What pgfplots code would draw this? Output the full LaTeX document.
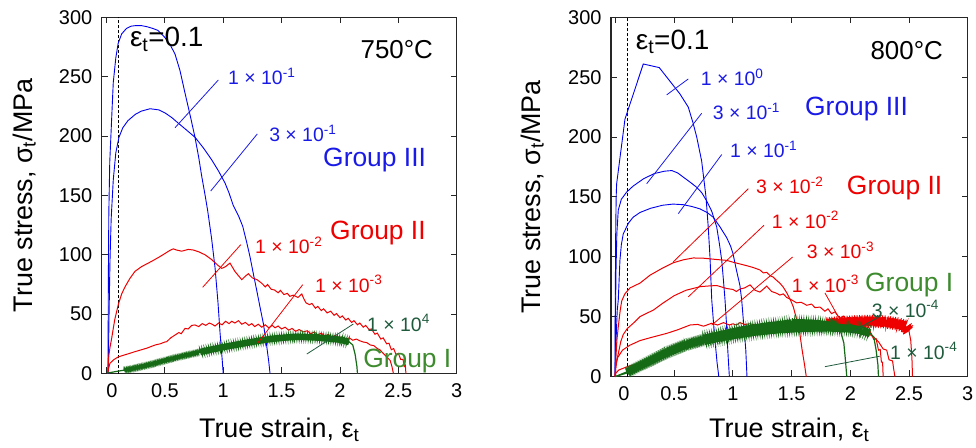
\documentclass[border=0pt]{standalone}
\usepackage{fontspec}
\setmainfont{Liberation Sans}
\usepackage{pgfplots}
\pgfplotsset{compat=1.18}
\usetikzlibrary{decorations.pathmorphing}

\definecolor{lblue}{HTML}{0000F0}
\definecolor{tblue}{HTML}{1A1AE6}
\definecolor{lred}{HTML}{EE0000}
\definecolor{lgreen}{HTML}{156A15}
\definecolor{tgreen}{HTML}{1F5A3C}
\definecolor{ggreen}{HTML}{3D8B2E}

\tikzset{
  rate/.style={anchor=base west, inner sep=0pt, font=\fontsize{19.5}{20}\selectfont},
  grp/.style={anchor=base west, inner sep=0pt, font=\fontsize{26.5}{28}\selectfont},
  big/.style={inner sep=0pt, font=\fontsize{28}{30}\selectfont},
  % scatter of the measured signal drawn round the mean curve
  fuzz/.style 2 args={postaction={draw, decorate,
      decoration={zigzag, segment length=#1, amplitude=#2}}},
}

\pgfplotsset{panel/.style={
  scale only axis, anchor=south west,
  ymin=0, ymax=300, xmax=3,
  xtick={0,0.5,1,1.5,2,2.5,3},
  ytick={0,50,100,150,200,250,300},
  yticklabels={0,50,100,150,200,250,300},
  tick align=inside, major tick length=6bp,
  axis line style={line width=1.1bp, black!85},
  tick style={line width=0.9bp, black!85},
  ticklabel style={font=\fontsize{20}{22}\selectfont},
  yticklabel style={xshift=-6bp},
  xticklabel style={yshift=-7bp},
  label style={font=\fontsize{27}{29}\selectfont},
  xlabel={True strain, ε\textsubscript{t}},
  ylabel={True stress, σ\textsubscript{t}/MPa},
  clip=false,
}}

\begin{document}
\begin{tikzpicture}
\useasboundingbox (0bp,0bp) rectangle (976bp,448bp);

% ---------------- 750 C ----------------
\begin{axis}[panel,
  at={(101.7bp,74.5bp)}, width=355bp, height=356.2bp,
  xmin=-0.041,
  xticklabels={\kern11bp 0,0.5,1,1.5,2,2.5,3},
  xlabel style={at={(axis description cs:0.5,-0.1797)}, anchor=base},
  ylabel style={at={(axis description cs:-0.1963,0.5)}, anchor=base},
]
\draw[black, dashed, line width=0.8bp, dash pattern=on 3bp off 2bp] (0.1,0) -- (0.1,300);

% 3x10^-1
\addplot[lblue, line width=0.9bp] coordinates {
(0.013,0)(0.016,80)(0.02,135)(0.028,178)(0.04,205)(0.058,245)(0.08,266)(0.1,278)
(0.13,286)(0.17,290.5)(0.21,292.5)(0.25,293)(0.3,293)(0.35,292)(0.4,290.5)(0.44,289)
(0.5,283)(0.55,276)(0.587,269)(0.63,255)(0.673,236)(0.72,216)(0.758,199)(0.79,182)
(0.816,166)(0.845,150)(0.867,137)(0.9,114)(0.93,89)(0.955,60)(0.973,34)(0.99,13)(1.0,0)};
% 1x10^-1
\addplot[lblue, line width=0.9bp] coordinates {
(0.015,0)(0.022,50)(0.03,95)(0.04,130)(0.058,163)(0.08,186)(0.107,199)(0.14,207)
(0.184,213)(0.25,218.5)(0.3,221)(0.373,223)(0.45,222)(0.501,219.5)(0.56,215.5)(0.613,211)
(0.68,205.5)(0.758,199)(0.83,190)(0.901,180)(0.96,170.5)(1.015,160.5)(1.05,152)(1.084,142)
(1.13,133)(1.167,124)(1.2,111)(1.23,98)(1.26,83)(1.287,70)(1.315,56)(1.344,42)(1.37,25)
(1.39,10)(1.401,0)};
% 1x10^-2
\addplot[lred, line width=1bp] coordinates {
(0.01,0)(0.02,15)(0.03,22)(0.045,30)(0.07,45)(0.101,58)(0.13,67)(0.159,73)(0.2,80)
(0.244,86)(0.3,90)(0.387,94.5)(0.45,98)(0.5,101)(0.54,103.5)(0.572,105)(0.6,104)(0.644,103)
(0.7,104.5)(0.744,104)(0.79,102.5)(0.844,100)(0.9,96)(0.95,91.5)(0.987,88.5)(1.02,90)
(1.058,93)(1.1,86)(1.159,79)(1.19,82)(1.215,84)(1.25,80.5)(1.29,79)(1.33,76)(1.36,73)
(1.38,75)(1.41,71)(1.44,70.3)(1.47,68)(1.49,70)(1.52,66.5)(1.55,67.5)(1.57,65)(1.6,66)
(1.64,64)(1.673,67)(1.69,63)(1.71,59.4)(1.74,58)(1.76,59)(1.79,55)(1.81,56.5)(1.84,53)
(1.86,54.5)(1.89,51)(1.92,52.5)(1.95,49)(1.97,50.5)(2.0,47)(2.02,48.5)(2.05,45)(2.07,46.5)
(2.1,43)(2.12,44.5)(2.15,41)(2.17,42.5)(2.2,39)(2.22,40.5)(2.25,37)(2.27,37.5)(2.3,33)
(2.32,34)(2.35,29)(2.37,30)(2.4,25)(2.42,25.5)(2.44,20)(2.46,21)(2.48,16)(2.5,17)
(2.52,12)(2.54,12)(2.55,6)(2.56,7)(2.565,0)};
% 1x10^-3
\addplot[lred, line width=1bp] coordinates {
(0.01,0)(0.02,5)(0.03,8.6)(0.06,11.5)(0.101,14)(0.15,15.5)(0.2,17)(0.244,18.4)(0.3,20)
(0.35,21.5)(0.416,24)(0.46,25)(0.5,26.5)(0.516,26.8)(0.55,30)(0.587,32.4)(0.62,34.5)
(0.64,33.5)(0.673,38)(0.7,37.5)(0.73,40.5)(0.758,40.9)(0.79,39.5)(0.82,42)(0.85,40.5)
(0.88,42.5)(0.901,41.7)(0.93,40)(0.96,42.5)(0.99,41)(1.02,44)(1.05,42)(1.073,44)(1.1,42.5)
(1.13,44.5)(1.16,41.5)(1.19,43)(1.22,40.5)(1.244,42)(1.27,39.5)(1.3,41.5)(1.33,39)(1.36,41)
(1.39,38.5)(1.42,40.5)(1.444,38.5)(1.47,40)(1.5,37.5)(1.53,39)(1.56,36.5)(1.59,38)(1.62,35.5)
(1.65,37)(1.686,35)(1.72,36)(1.75,33.5)(1.78,35)(1.81,32.5)(1.84,34)(1.87,31.5)(1.9,33)
(1.93,30.5)(1.96,32)(1.99,30)(2.02,31)(2.05,29)(2.08,30)(2.11,28)(2.14,29)(2.172,27.5)
(2.2,26.5)(2.23,26)(2.26,24)(2.29,23.5)(2.32,21)(2.344,19.8)(2.37,17)(2.4,14)(2.43,11)
(2.445,6)(2.458,0)};
% 1x10^-4 (mean curve, then its scatter)
\addplot[lgreen, line width=1.2bp] coordinates {
(0.015,0.5)(0.1,2)(0.2,3.6)(0.3,5.8)(0.4,8.2)(0.5,10.9)(0.6,13.5)(0.7,15.8)(0.8,18)
(0.9,20.2)(1.0,22.2)(1.1,24)(1.2,25.8)(1.3,27.5)(1.4,29)(1.5,30)(1.6,30.8)(1.7,30.8)
(1.8,30.3)(1.9,29.5)(2.0,28.5)(2.08,26.5)(2.11,24)(2.13,16)(2.145,6)(2.15,0)};
\addplot[lgreen, line width=0.9bp, fuzz={1.1bp}{1.5bp}, fuzz={2.3bp}{2bp}] coordinates {
(0.15,2.8)(0.2,3.6)(0.3,5.8)(0.4,8.2)(0.5,10.9)(0.6,13.5)(0.7,15.8)(0.8,18)};
\addplot[lgreen, line width=0.9bp, fuzz={1.1bp}{3.2bp}, fuzz={2.3bp}{4bp}] coordinates {
(0.8,18)(0.9,20.2)(1.0,22.2)(1.1,24)(1.2,25.8)(1.3,27.5)(1.4,29)(1.5,30)(1.6,30.8)
(1.7,30.8)(1.8,30.3)(1.9,29.5)(2.0,28.5)(2.08,26.5)};

\node[big, anchor=base west] at (0.2,275) {ε\textsubscript{t}=0.1};
\node[big, anchor=base east, font=\fontsize{26}{28}\selectfont] at (2.798,265) {750°C};

\draw[tblue, line width=0.8bp] (0.958,247.2) -- (0.587,207);
\draw[tblue, line width=0.8bp] (1.292,201.8) -- (0.893,153.7);
\draw[lred, line width=0.8bp] (1.15,108.5) -- (0.824,72.6);
\draw[lred, line width=0.8bp] (1.681,74.8) -- (1.296,25.7);
\draw[tgreen, line width=0.8bp] (2.115,41.7) -- (1.716,16.4);

\node[rate, tblue] at (1.041,243) {1 × 10\textsuperscript{-1}};
\node[rate, tblue] at (1.393,195) {3 × 10\textsuperscript{-1}};
\node[grp, tblue] at (1.855,174.2) {Group III};
\node[grp, lred] at (1.915,112.5) {Group II};
\node[rate, lred] at (1.272,100.7) {1 × 10\textsuperscript{-2}};
\node[rate, lred] at (1.786,68.4) {1 × 10\textsuperscript{-3}};
\node[rate, tgreen] at (2.232,35.5) {1 × 10\textsuperscript{4}};
\node[grp, ggreen] at (2.198,5.2) {Group I};
\end{axis}

% ---------------- 800 C ----------------
\begin{axis}[panel,
  at={(611bp,71.5bp)}, width=356.7bp, height=359.2bp,
  xmin=-0.038,
  xticklabels={\kern17bp 0,0.5,1,1.5,2,2.5,3},
  xlabel style={at={(axis description cs:0.5,-0.1693)}, anchor=base},
  ylabel style={at={(axis description cs:-0.199,0.5)}, anchor=base},
]
\draw[black, dashed, line width=0.8bp, dash pattern=on 3bp off 2bp] (0.1,0) -- (0.1,300);

% 1x10^0
\addplot[lblue, line width=0.9bp] coordinates {
(-0.004,0)(-0.002,60)(0.002,120)(0.006,150)(0.01,161)(0.081,215)(0.237,261)(0.373,258)
(0.549,236)(0.62,225)(0.66,212)(0.692,200)(0.734,180)(0.771,150)(0.79,125)(0.805,100)
(0.82,64)(0.835,45)(0.848,30)(0.865,12)(0.88,0)};
% 3x10^-1
\addplot[lblue, line width=0.9bp] coordinates {
(-0.003,0)(0.0,50)(0.005,90)(0.012,120)(0.024,139)(0.05,148)(0.095,154)(0.15,159)
(0.237,165)(0.33,169.5)(0.42,171.5)(0.48,172)(0.53,170)(0.578,166.5)(0.64,162)(0.692,158)
(0.735,153.5)(0.775,147)(0.82,138)(0.862,125)(0.885,111)(0.905,97)(0.92,80)(0.933,64)
(0.945,45)(0.952,30)(0.962,13)(0.97,0)};
% 1x10^-1
\addplot[lblue, line width=0.9bp] coordinates {
(-0.002,0)(0.005,30)(0.015,55)(0.024,64)(0.038,97)(0.05,110)(0.066,119)(0.11,128)
(0.15,133)(0.209,137)(0.3,140.5)(0.4,143)(0.49,144)(0.578,143.5)(0.65,142)(0.72,140)
(0.78,137)(0.833,133)(0.89,125)(0.947,116)(0.98,109)(1.0,103)(1.03,89)(1.06,76)
(1.075,64)(1.09,46)(1.1,35)(1.11,22)(1.12,0)};
% 3x10^-2
\addplot[lred, line width=1bp] coordinates {
(-0.003,0)(0.003,15)(0.012,30)(0.024,41.5)(0.04,55)(0.053,63)(0.08,69)(0.124,74)(0.209,78)
(0.294,84.6)(0.4,90.5)(0.492,95)(0.58,97.5)(0.663,99)(0.75,98.8)(0.862,97.7)(0.947,97)
(1.0,95.5)(1.06,94)(1.12,92.5)(1.174,91)(1.23,89)(1.26,86.5)(1.288,87)(1.32,84)(1.344,83)
(1.37,80.5)(1.4,78)(1.43,74.5)(1.458,70)(1.49,64)(1.515,58)(1.545,47)(1.57,36)(1.59,22)
(1.61,10)(1.625,0)};
% 1x10^-2
\addplot[lred, line width=1bp] coordinates {
(-0.003,0)(0.003,8)(0.012,14)(0.024,19)(0.045,29)(0.066,35)(0.1,40)(0.152,44.5)(0.209,50)
(0.27,53)(0.322,55.4)(0.4,61)(0.5,67.5)(0.6,72)(0.72,75)(0.777,75.5)(0.862,76)(0.947,73.5)
(1.0,72.7)(1.03,71)(1.06,73)(1.1,74)(1.146,76.5)(1.19,72)(1.23,70.5)(1.26,73)(1.288,75.5)
(1.33,71)(1.373,69.5)(1.4,68)(1.43,69)(1.458,66)(1.5,64)(1.543,61.5)(1.58,62)(1.63,59.5)
(1.67,60.5)(1.7,57.5)(1.742,58)(1.784,54.5)(1.81,56.5)(1.84,52.5)(1.87,54)(1.91,48.5)
(1.94,50.5)(1.97,46)(2.0,47.5)(2.03,44)(2.06,45.5)(2.09,41)(2.12,42)(2.15,37)(2.17,37.5)
(2.2,31)(2.22,31.5)(2.24,22)(2.255,22.5)(2.265,12)(2.275,12)(2.28,0)};
% 3x10^-3
\addplot[lred, line width=1bp] coordinates {
(-0.003,0)(0.003,8)(0.012,13)(0.02,16)(0.06,22)(0.12,26)(0.209,30)(0.3,32.5)(0.436,36)
(0.53,39)(0.635,43)(0.7,43.5)(0.75,42)(0.82,44.5)(0.87,43)(0.92,45)(0.97,43)(1.0,44)
(1.03,43)(1.06,45)(1.1,43.5)(1.15,44)(1.2,42.5)(1.25,44)(1.3,42)(1.35,43.5)(1.4,41.5)
(1.45,43)(1.5,41)(1.55,43)(1.6,41)(1.65,42.5)(1.7,40.5)(1.75,42)(1.8,40)(1.85,41.5)
(1.9,39.5)(1.95,41)(2.0,39)(2.05,39.5)(2.1,37)(2.15,36)(2.2,33)(2.24,29)(2.28,23)
(2.31,22)(2.33,14)(2.36,13)(2.37,6)(2.38,0)};
% 1x10^-3 (mean curve, then its scatter)
\addplot[lred, line width=1bp] coordinates {
(-0.003,0)(0.005,3)(0.03,5.5)(0.095,8)(0.2,11)(0.294,14)(0.4,18)(0.5,22)(0.578,25)(0.7,29)
(0.862,33)(1.0,34.5)(1.145,36)(1.25,37.5)(1.4,39)(1.5,40.5)(1.6,42)(1.7,43)(1.8,44)
(1.9,45)(2.0,45.5)(2.1,46)(2.2,46)(2.3,45.5)(2.4,44)(2.47,42)(2.5,38)(2.515,30)(2.525,15)(2.53,0)};
\addplot[lred, line width=0.8bp, fuzz={1.2bp}{5bp}, fuzz={2.5bp}{6.5bp}] coordinates {
(1.8,44)(1.9,45)(2.0,45.5)(2.1,46)(2.2,46)(2.3,45.5)(2.4,44)(2.47,42)(2.5,38)};
% 3x10^-4
\addplot[lgreen, line width=1.2bp] coordinates {
(0,0)(0.1,4)(0.2,9)(0.3,14)(0.436,21)(0.6,27.5)(0.75,31.5)(0.862,34)(1.0,37)(1.1,39)
(1.2,40.5)(1.3,42)(1.4,43)(1.5,44.5)(1.6,44.5)(1.7,44)(1.8,43)(1.88,41)(1.92,37)(1.945,28)
(1.96,12)(1.97,0)};
\addplot[lgreen, line width=0.9bp, fuzz={1.1bp}{2bp}, fuzz={2.3bp}{2.8bp}] coordinates {
(0.1,4)(0.2,9)(0.3,14)(0.436,21)(0.6,27.5)(0.75,31.5)};
\addplot[lgreen, line width=0.9bp, fuzz={1.1bp}{4bp}, fuzz={2.3bp}{5bp}] coordinates {
(0.75,31.5)(0.862,34)(1.0,37)(1.1,39)(1.2,40.5)(1.3,42)(1.4,43)(1.5,44.5)(1.6,44.5)
(1.7,44)(1.8,43)(1.88,41)};
% 1x10^-4
\addplot[lgreen, line width=1.2bp] coordinates {
(0,0)(0.1,3)(0.2,8)(0.3,12.5)(0.436,19)(0.6,25.5)(0.75,29.5)(0.862,32)(1.0,34.5)(1.1,36)
(1.2,37.5)(1.3,38.5)(1.4,39.5)(1.5,40)(1.6,40.5)(1.8,41)(2.0,40)(2.1,38.5)(2.17,36)
(2.2,33)(2.22,22)(2.235,10)(2.24,0)};
\addplot[lgreen, line width=0.9bp, fuzz={1.1bp}{2bp}, fuzz={2.3bp}{2.8bp}] coordinates {
(0.1,3)(0.2,8)(0.3,12.5)(0.436,19)(0.6,25.5)(0.75,29.5)};
\addplot[lgreen, line width=0.9bp, fuzz={1.1bp}{4bp}, fuzz={2.3bp}{5bp}] coordinates {
(0.75,29.5)(0.862,32)(1.0,34.5)(1.1,36)(1.2,37.5)(1.3,38.5)(1.4,39.5)(1.5,40)(1.6,40.5)
(1.8,41)(2.0,40)(2.1,38.5)(2.17,36)};

\node[big, anchor=base west] at (0.172,273.5) {ε\textsubscript{t}=0.1};
\node[big, anchor=base east, font=\fontsize{26}{28}\selectfont] at (2.79,264.6) {800°C};

\draw[tblue, line width=0.8bp] (0.62,248.5) -- (0.436,235.2);
\draw[tblue, line width=0.8bp] (0.734,219.8) -- (0.266,161);
\draw[tblue, line width=0.8bp] (0.905,185.4) -- (0.535,136);
\draw[lred, line width=0.8bp] (1.131,156.8) -- (0.492,95.7);
\draw[lred, line width=0.8bp] (1.265,126.3) -- (0.62,66.5);
\draw[lred, line width=0.8bp] (1.509,99.8) -- (0.819,42.9);
\draw[lred, line width=0.8bp] (1.784,69.8) -- (1.898,49.8);
\draw[tgreen, line width=0.8bp] (2.267,51.2) -- (1.997,36);
\draw[tgreen, line width=0.8bp] (2.253,17) -- (1.784,8.2);

\node[rate, tblue] at (0.726,242.7) {1 × 10\textsuperscript{0}};
\node[rate, tblue] at (0.828,214.6) {3 × 10\textsuperscript{-1}};
\node[rate, tblue] at (0.975,182.7) {1 × 10\textsuperscript{-1}};
\node[grp, tblue] at (1.614,218) {Group III};
\node[rate, lred] at (1.197,152.7) {3 × 10\textsuperscript{-2}};
\node[grp, lred] at (1.97,152) {Group II};
\node[rate, lred] at (1.33,123.7) {1 × 10\textsuperscript{-2}};
\node[rate, lred] at (1.629,98.5) {3 × 10\textsuperscript{-3}};
\node[rate, lred] at (1.501,70.4) {1 × 10\textsuperscript{-3}};
\node[grp, ggreen] at (2.125,71.2) {Group I};
\node[rate, tgreen] at (2.182,49.3) {3 × 10\textsuperscript{-4}};
\node[rate, tgreen] at (2.338,14.6) {1 × 10\textsuperscript{-4}};
\end{axis}
\end{tikzpicture}
\end{document}
